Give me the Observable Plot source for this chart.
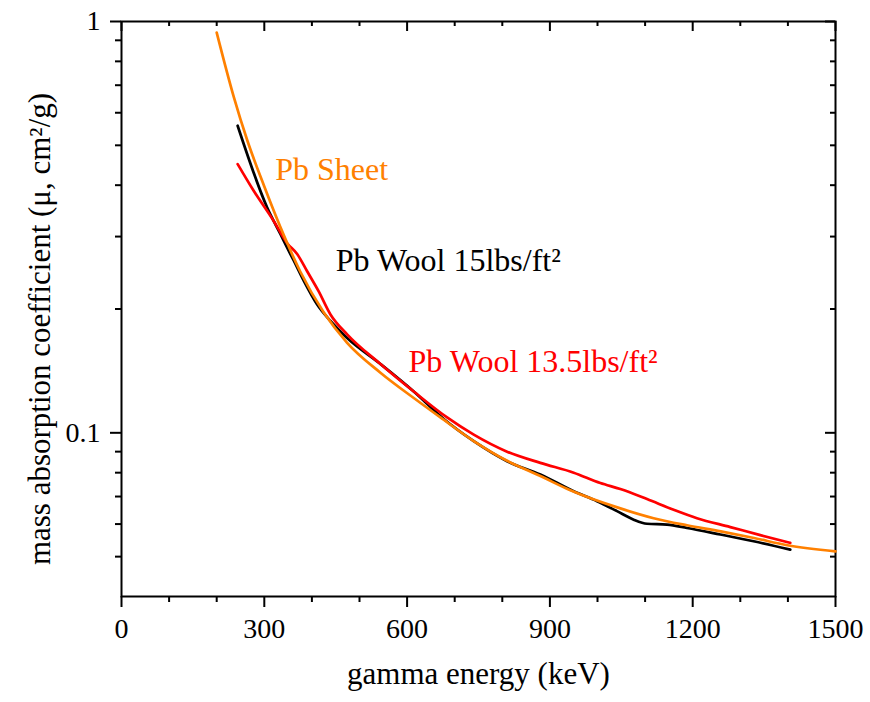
<!DOCTYPE html>
<html>
<head>
<meta charset="utf-8">
<script src="https://cdn.jsdelivr.net/npm/d3@7"></script>
<script src="https://cdn.jsdelivr.net/npm/@observablehq/plot@0.6"></script>
<style>
  html, body { margin: 0; padding: 0; background: white; }
  #chart { width: 870px; height: 702px; }
</style>
</head>
<body>
<div id="chart"></div>
<script>
// Pb Sheet (orange)
const sheetEnergy = [200, 236, 264, 300, 334, 376, 425, 474, 544, 614, 670, 740, 810, 880, 943, 1048, 1118, 1188, 1259, 1329, 1399, 1500];
const sheetCoef   = [0.94, 0.655, 0.515, 0.397, 0.316, 0.246, 0.196, 0.1655, 0.140, 0.1215, 0.109, 0.0955, 0.0855, 0.0785, 0.0725, 0.0655, 0.062, 0.0596, 0.0576, 0.0555, 0.0533, 0.0515];

// Pb Wool 15 lbs/ft² (black)
const wool15Energy = [244, 306, 334, 348, 362, 383, 411, 439, 474, 544, 614, 677, 740, 810, 880, 950, 999, 1041, 1076, 1104, 1146, 1188, 1258, 1328, 1405];
const wool15Coef   = [0.558, 0.353, 0.304, 0.282, 0.262, 0.234, 0.205, 0.187, 0.170, 0.147, 0.126, 0.108, 0.0954, 0.0853, 0.0792, 0.0721, 0.0682, 0.0645, 0.0615, 0.0601, 0.0598, 0.0587, 0.0566, 0.0545, 0.052];

// Pb Wool 13.5 lbs/ft² (red)
const wool135Energy = [244, 278, 320, 348, 369, 390, 414, 439, 474, 544, 614, 684, 740, 810, 880, 950, 1006, 1048, 1104, 1160, 1209, 1279, 1342, 1405];
const wool135Coef   = [0.450, 0.387, 0.327, 0.289, 0.272, 0.247, 0.221, 0.194, 0.1735, 0.147, 0.126, 0.109, 0.099, 0.090, 0.0845, 0.080, 0.0755, 0.073, 0.069, 0.065, 0.062, 0.059, 0.0564, 0.054];

// Series labels
const labelText   = ["Pb Sheet", "Pb Wool 15lbs/ft²", "Pb Wool 13.5lbs/ft²"];
const labelEnergy = [323, 450, 603];
const labelCoef   = [0.437, 0.2625, 0.1485];
const labelColor  = ["#FF8000", "#000000", "#FF0000"];

// Ticks
const xMajor = [0, 300, 600, 900, 1200, 1500];
const xMinor = [100, 200, 400, 500, 700, 800, 1000, 1100, 1300, 1400];
const yMajor = [0.1, 1];
const yMinor = [0.05, 0.06, 0.07, 0.08, 0.09, 0.2, 0.3, 0.4, 0.5, 0.6, 0.7, 0.8, 0.9];
const yTickLabels = ["0.1", "1"];

const xTitle = "gamma energy (keV)";
const yTitle = "mass absorption coefficient (μ, cm²/g)";

const toRows = (xs, ys) => xs.map((x, i) => ({x, y: ys[i]}));
const sheet = toRows(sheetEnergy, sheetCoef);
const wool15 = toRows(wool15Energy, wool15Coef);
const wool135 = toRows(wool135Energy, wool135Coef);
const labels = labelText.map((t, i) => ({t, x: labelEnergy[i], y: labelCoef[i], c: labelColor[i]}));

const W = 870, H = 702, ML = 121, MR = 35, MT = 21, MB = 106;
const plotW = W - ML - MR, plotH = H - MT - MB;

const chart = Plot.plot({
  width: W, height: H,
  marginLeft: ML, marginRight: MR, marginTop: MT, marginBottom: MB,
  style: {fontFamily: "'Liberation Serif', 'Times New Roman', serif", background: "white", color: "black"},
  x: {domain: [0, 1500]},
  y: {type: "log", domain: [0.04, 1]},
  marks: [
    // bottom axis (outward ticks)
    Plot.axisX(xMajor, {anchor: "bottom", tickSize: 11, tickPadding: 11, fontSize: 28, strokeWidth: 2, label: null, tickFormat: d => String(d)}),
    Plot.axisX(xMinor, {anchor: "bottom", tickSize: 6, strokeWidth: 2, label: null, tickFormat: () => ""}),
    // left axis (outward ticks)
    Plot.axisY(yMajor, {anchor: "left", tickSize: 11, tickPadding: 10, fontSize: 28, strokeWidth: 2, label: null, tickFormat: d => yTickLabels[yMajor.indexOf(d)]}),
    Plot.axisY(yMinor, {anchor: "left", tickSize: 6, strokeWidth: 2, label: null, tickFormat: () => ""}),
    // top axis (inward ticks)
    Plot.ruleX(xMajor, {x: d => d, insetBottom: plotH - 10, strokeWidth: 2}),
    Plot.ruleX(xMinor, {x: d => d, insetBottom: plotH - 5, strokeWidth: 2}),
    // right axis (inward ticks)
    Plot.ruleY(yMajor, {y: d => d, insetLeft: plotW - 10, strokeWidth: 2}),
    Plot.ruleY(yMinor, {y: d => d, insetLeft: plotW - 5, strokeWidth: 2}),
    Plot.frame({stroke: "black", strokeWidth: 2}),
    // series
    Plot.line(wool15, {x: "x", y: "y", stroke: "#000000", strokeWidth: 2.7, curve: "monotone-x"}),
    Plot.line(wool135, {x: "x", y: "y", stroke: "#FF0000", strokeWidth: 2.7, curve: "monotone-x"}),
    Plot.line(sheet, {x: "x", y: "y", stroke: "#FF8000", strokeWidth: 2.7, curve: "monotone-x"}),
    // series labels
    Plot.text(labels, {x: "x", y: "y", text: "t", fill: "c", textAnchor: "start", fontSize: 32}),
    // axis titles
    Plot.text([xTitle], {frameAnchor: "bottom", dy: 87, fontSize: 31, text: d => d}),
    Plot.text([yTitle], {frameAnchor: "left", textAnchor: "middle", dx: -81, dy: 20, rotate: -90, fontSize: 31, text: d => d})
  ]
});
document.getElementById("chart").appendChild(chart);
</script>
</body>
</html>
